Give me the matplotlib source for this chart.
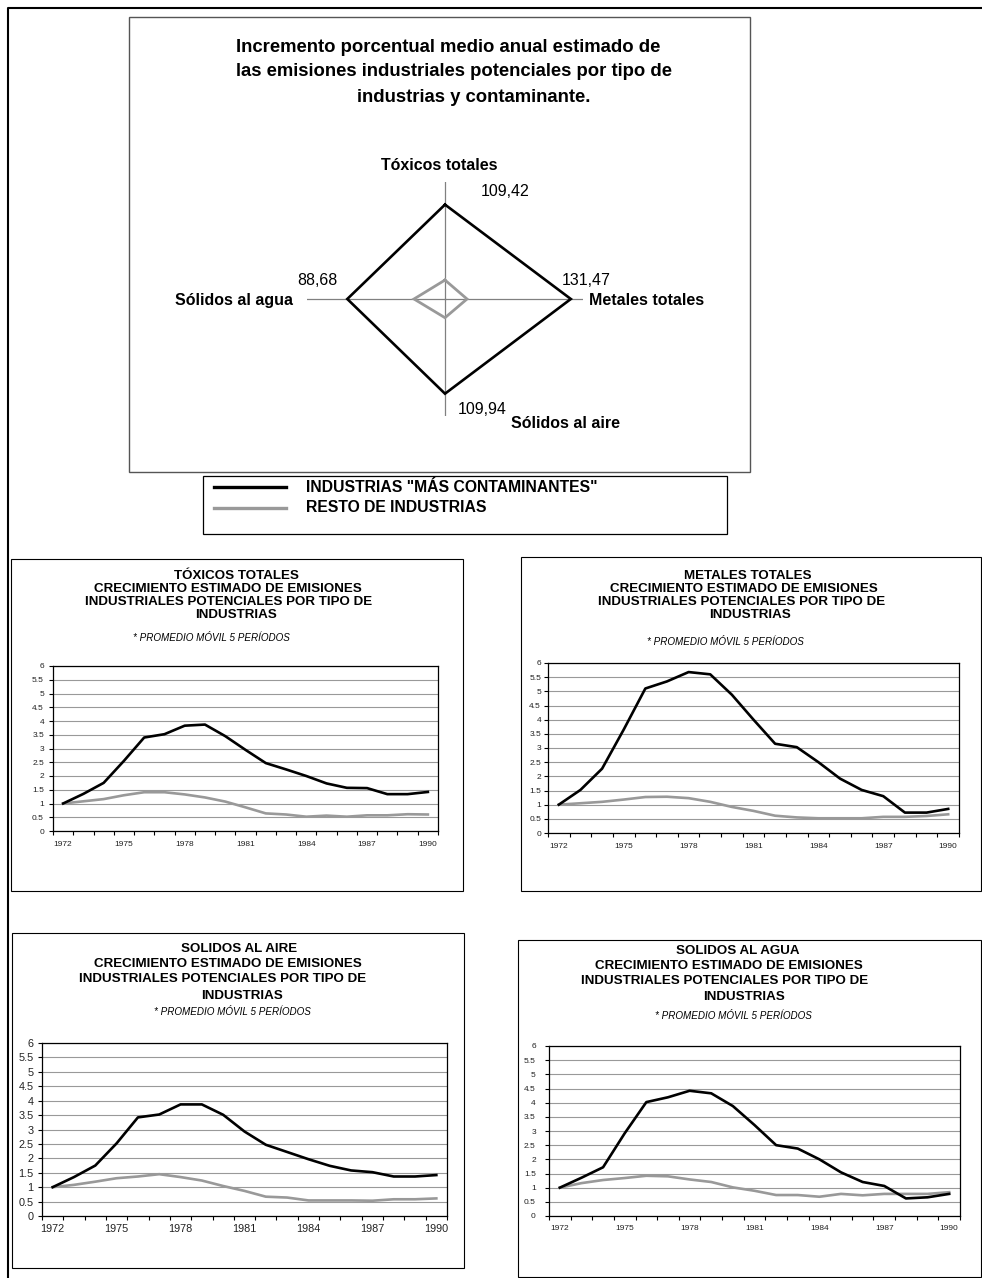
"""Emisiones industriales potenciales: radar + cuatro series 1972-1990."""
import matplotlib

matplotlib.use("Agg")
import matplotlib.pyplot as plt  # noqa: E402
import numpy as np  # noqa: E402
from matplotlib import font_manager  # noqa: E402
from matplotlib.lines import Line2D  # noqa: E402
from matplotlib.patches import Rectangle  # noqa: E402

W, H = 982, 1278

# ---- data -----------------------------------------------------------------
years = list(range(1972, 1991))
year_labels = ["1972", "1975", "1978", "1981", "1984", "1987", "1990"]
y_ticks = [0, 0.5, 1, 1.5, 2, 2.5, 3, 3.5, 4, 4.5, 5, 5.5, 6]

toxicos_mas = [1.00, 1.35, 1.75, 2.55, 3.40, 3.52, 3.83, 3.87, 3.45, 2.95,
               2.47, 2.24, 2.00, 1.73, 1.57, 1.56, 1.34, 1.34, 1.42]
toxicos_resto = [1.00, 1.08, 1.16, 1.30, 1.41, 1.41, 1.33, 1.22, 1.07, 0.86,
                 0.64, 0.60, 0.52, 0.56, 0.52, 0.57, 0.57, 0.61, 0.60]

metales_mas = [1.00, 1.52, 2.27, 3.65, 5.10, 5.35, 5.68, 5.60, 4.88, 4.00,
               3.15, 3.03, 2.50, 1.92, 1.52, 1.30, 0.72, 0.72, 0.85]
metales_resto = [1.00, 1.05, 1.10, 1.18, 1.27, 1.28, 1.23, 1.10, 0.92, 0.78,
                 0.61, 0.55, 0.52, 0.52, 0.52, 0.57, 0.57, 0.60, 0.66]

aire_mas = [1.00, 1.35, 1.75, 2.52, 3.42, 3.52, 3.87, 3.87, 3.51, 2.93,
            2.47, 2.22, 1.97, 1.74, 1.58, 1.52, 1.37, 1.37, 1.42]
aire_resto = [1.00, 1.08, 1.19, 1.31, 1.37, 1.45, 1.35, 1.23, 1.04, 0.87,
              0.67, 0.64, 0.54, 0.54, 0.54, 0.53, 0.58, 0.58, 0.61]

agua_mas = [1.00, 1.35, 1.72, 2.92, 4.02, 4.19, 4.42, 4.33, 3.88, 3.21,
            2.50, 2.38, 2.00, 1.54, 1.20, 1.06, 0.62, 0.66, 0.78]
agua_resto = [1.00, 1.16, 1.27, 1.34, 1.42, 1.40, 1.29, 1.20, 1.01, 0.89,
              0.74, 0.74, 0.68, 0.78, 0.73, 0.78, 0.78, 0.78, 0.84]

radar_axes = ["Tóxicos totales", "Metales totales", "Sólidos al aire", "Sólidos al agua"]
radar_mas = [109.42, 131.47, 109.94, 88.68]
radar_resto = [-26.0, -26.5, -26.4, -12.8]
radar_value_labels = ["109,42", "131,47", "109,94", "88,68"]
RADAR_MIN, RADAR_MAX = -60, 150

legend_labels = ['INDUSTRIAS "MÁS CONTAMINANTES"', "RESTO DE INDUSTRIAS"]
subtitle = "* PROMEDIO MÓVIL 5 PERÍODOS"
common_title = ["CRECIMIENTO ESTIMADO DE EMISIONES",
                "INDUSTRIALES POTENCIALES POR TIPO DE",
                "INDUSTRIAS"]

GRAY = "#999999"
SANS = "Liberation Sans"
_names = {f.name for f in font_manager.fontManager.ttflist}
HAS_NARROW = "Liberation Sans Narrow" in _names
NARROW = "Liberation Sans Narrow" if HAS_NARROW else SANS
TICK_SMALL = 6.8 if HAS_NARROW else 6.0
TICK_BIG = 9.0 if HAS_NARROW else 7.8
SUB_SIZE = 8.6 if HAS_NARROW else 7.1

plt.rcParams["font.family"] = [SANS, "DejaVu Sans"]

fig = plt.figure(figsize=(W / 100, H / 100), dpi=100)


def frac_rect(x0, y0, x1, y1):
    return [x0 / W, 1 - y1 / H, (x1 - x0) / W, (y1 - y0) / H]


def ftext(x, y, s, **kw):
    fig.text(x / W, 1 - y / H, s, **kw)


def box(x0, y0, x1, y1, color="black", lw=0.8):
    fig.add_artist(Rectangle((x0 / W, 1 - y1 / H), (x1 - x0) / W, (y1 - y0) / H,
                             transform=fig.transFigure, fill=False,
                             edgecolor=color, linewidth=lw))


# outer frame (top + left only)
fig.add_artist(Line2D([8 / W, 8 / W, 1], [0, 1 - 8 / H, 1 - 8 / H],
                      transform=fig.transFigure, color="black", lw=1.5))

# ---- radar ----------------------------------------------------------------
box(129, 17, 750, 472, color="#555555", lw=1.0)
for line, x, y in zip(["Incremento porcentual medio anual estimado de",
                       "las emisiones industriales potenciales por tipo de",
                       "industrias y contaminante."],
                      [236, 236, 357], [47, 72, 97]):
    ftext(x, y, line, ha="left", va="center", fontsize=13.3, fontweight="bold")

cx, cy, hw, hh = 445, 299, 138, 117
rax = fig.add_axes(frac_rect(cx - hw, cy - hh, cx + hw, cy + hh))
span = RADAR_MAX - RADAR_MIN
rax.set_xlim(-span, span)
rax.set_ylim(-span, span)
rax.axis("off")
dirs = np.array([[0, 1], [1, 0], [0, -1], [-1, 0]])
for dx, dy in dirs:
    rax.plot([0, dx * span], [0, dy * span], color="#808080", lw=0.9, zorder=1)


def radar_poly(values):
    r = np.array(values) - RADAR_MIN
    xs = np.append(dirs[:, 0] * r, dirs[0, 0] * r[0])
    ys = np.append(dirs[:, 1] * r, dirs[0, 1] * r[0])
    return xs, ys


rax.plot(*radar_poly(radar_resto), color=GRAY, lw=2.0, zorder=2,
         solid_joinstyle="miter")
rax.plot(*radar_poly(radar_mas), color="black", lw=1.9, zorder=3,
         solid_joinstyle="miter")

name_pos = [(381, 165), (589, 300), (511, 424), (175, 300)]
value_pos = [(481, 192), (562, 280), (458, 410), (297, 280)]
for name, (x, y) in zip(radar_axes, name_pos):
    ftext(x, y, name, ha="left", va="center", fontsize=11.5, fontweight="bold")
for val, (x, y) in zip(radar_value_labels, value_pos):
    ftext(x, y, val, ha="left", va="center", fontsize=11.5)

# ---- legend ---------------------------------------------------------------
box(203, 476, 727, 534, color="black", lw=0.9)
for label, color, y in zip(legend_labels, ["black", GRAY], [487, 508]):
    fig.add_artist(Line2D([214 / W, 286 / W], [1 - y / H, 1 - y / H],
                          transform=fig.transFigure, color=color, lw=2.4))
    ftext(306, y, label, ha="left", va="center", fontsize=11.3, fontweight="bold")


# ---- small charts ---------------------------------------------------------
def small_chart(box_px, plot_px, head, title_pos, sub_pos, mas, resto,
                tick_size, xpad, ypad):
    box(*box_px)
    for line, (x, y) in zip([head] + common_title, title_pos):
        ftext(x, y, line, ha="center", va="center", fontsize=9.6, fontweight="bold")
    ftext(*sub_pos, subtitle, ha="center", va="center", fontsize=SUB_SIZE,
          style="italic", family=[NARROW, "DejaVu Sans"])

    ax = fig.add_axes(frac_rect(*plot_px))
    ax.plot(years, resto, color=GRAY, lw=1.9, zorder=3, solid_joinstyle="round")
    ax.plot(years, mas, color="black", lw=1.9, zorder=4, solid_joinstyle="round")
    ax.set_xlim(years[0] - 0.5, years[-1] + 0.5)
    ax.set_ylim(0, 6)
    ax.set_yticks(y_ticks)
    ax.set_yticklabels([f"{v:g}" for v in y_ticks])
    ax.set_xticks([int(s) for s in year_labels])
    ax.set_xticklabels(year_labels)
    ax.set_xticks(np.arange(years[0] - 0.5, years[-1] + 1), minor=True)
    ax.tick_params(axis="x", which="major", length=0, pad=xpad)
    ax.tick_params(axis="x", which="minor", length=3, width=0.8, direction="out")
    ax.tick_params(axis="y", length=3, width=0.8, direction="out", pad=ypad)
    for lab in ax.get_xticklabels() + ax.get_yticklabels():
        lab.set_fontsize(tick_size)
        lab.set_family([NARROW, "DejaVu Sans"])
        lab.set_color("#222222")
    ax.yaxis.grid(True, color=GRAY, lw=0.8)
    ax.set_axisbelow(True)
    for sp in ax.spines.values():
        sp.set_linewidth(0.9)
        sp.set_color("black")


small_chart((11, 559, 463, 891), (53, 666, 438, 831), "TÓXICOS TOTALES",
            [(236, 576), (228, 589), (229, 602), (236, 615)], (211, 638),
            toxicos_mas, toxicos_resto, TICK_SMALL, 7.5, 3.5)
small_chart((521, 557, 981, 891), (548, 663, 959, 833), "METALES TOTALES",
            [(748, 576), (744, 589), (742, 602), (750, 615)], (725, 642),
            metales_mas, metales_resto, TICK_SMALL, 7, 2)
small_chart((12, 933, 464, 1268), (42, 1043, 447, 1216), "SOLIDOS AL AIRE",
            [(239, 949), (228, 964), (223, 979), (242, 996)], (232, 1012),
            aire_mas, aire_resto, TICK_BIG, 5.5, 3)
small_chart((518, 940, 981, 1277), (549, 1046, 960, 1216), "SOLIDOS AL AGUA",
            [(738, 951), (729, 966), (725, 981), (744, 997)], (733, 1016),
            agua_mas, agua_resto, TICK_SMALL, 6.5, 6.5)

fig.savefig("out.png", dpi=100)
